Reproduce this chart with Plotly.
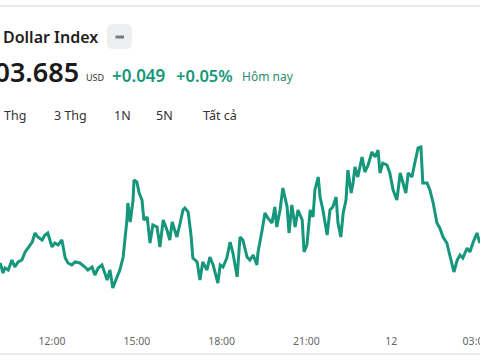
import datetime as dt
import plotly.graph_objects as go

# ---- data ----
start = dt.datetime(2024, 3, 11, 10, 0)
minutes = [10, 16, 20, 27, 35, 41, 48, 56, 63, 69,
           78, 84, 90, 99, 105, 111, 120, 126, 133, 141,
           148, 154, 162, 169, 175, 179, 190, 196, 205, 211,
           218, 226, 232, 237, 243, 249, 258, 264, 271, 279,
           281, 286, 292, 294, 300, 305, 311, 315, 322, 328,
           334, 343, 349, 356, 364, 370, 375, 385, 392, 398,
           402, 409, 415, 419, 428, 434, 440, 449, 455, 462,
           472, 477, 483, 491, 498, 504, 513, 519, 525, 534,
           540, 547, 555, 557, 566, 572, 578, 587, 593, 597,
           604, 610, 619, 623, 629, 636, 642, 651, 655, 661,
           668, 674, 678, 685, 689, 695, 704, 710, 716, 723,
           727, 733, 738, 744, 748, 755, 759, 763, 769, 778,
           784, 791, 799, 806, 812, 816, 822, 831, 837, 844,
           852, 859, 865, 871, 876, 884, 890, 897, 903, 907,
           916, 922, 929, 937, 943, 950, 958, 965, 973, 980,
           986, 992, 1001, 1007, 1014, 1022, 1028]
prices = [103.625, 103.595, 103.610, 103.604, 103.634, 103.613, 103.628, 103.634, 103.658, 103.670,
          103.688, 103.715, 103.703, 103.694, 103.709, 103.715, 103.673, 103.685, 103.679, 103.694,
          103.640, 103.625, 103.619, 103.628, 103.625, 103.625, 103.613, 103.604, 103.613, 103.589,
          103.610, 103.619, 103.595, 103.574, 103.604, 103.550, 103.583, 103.604, 103.643, 103.754,
          103.805, 103.748, 103.814, 103.874, 103.868, 103.835, 103.814, 103.754, 103.763, 103.685,
          103.739, 103.733, 103.673, 103.754, 103.724, 103.694, 103.748, 103.703, 103.745, 103.784,
          103.790, 103.778, 103.709, 103.640, 103.628, 103.574, 103.628, 103.604, 103.643, 103.619,
          103.565, 103.619, 103.613, 103.640, 103.688, 103.655, 103.583, 103.703, 103.694, 103.643,
          103.634, 103.649, 103.619, 103.655, 103.724, 103.775, 103.760, 103.745, 103.793, 103.733,
          103.784, 103.850, 103.793, 103.715, 103.799, 103.733, 103.784, 103.754, 103.658, 103.679,
          103.784, 103.763, 103.844, 103.883, 103.823, 103.784, 103.709, 103.784, 103.793, 103.823,
          103.745, 103.703, 103.775, 103.814, 103.904, 103.835, 103.865, 103.913, 103.883, 103.943,
          103.898, 103.919, 103.958, 103.943, 103.964, 103.895, 103.925, 103.919, 103.895, 103.844,
          103.814, 103.895, 103.865, 103.835, 103.895, 103.883, 103.925, 103.970, 103.973, 103.865,
          103.865, 103.844, 103.805, 103.745, 103.730, 103.703, 103.685, 103.643, 103.598, 103.634,
          103.649, 103.640, 103.670, 103.658, 103.688, 103.715, 103.685]
tick_minutes = [120, 300, 480, 660, 840, 1020]
tick_labels = ["12:00", "15:00", "18:00", "21:00", "12", "03:00"]
range_labels = ["Thg", "3 Thg", "1N", "5N", "Tất cả"]

times = [start + dt.timedelta(minutes=m) for m in minutes]
tick_vals = [start + dt.timedelta(minutes=m) for m in tick_minutes]

W, H, B = 480, 360, 30
PH = H - B
GREEN = "#16967a"
FONT = "Noto Sans, Open Sans, sans-serif"


def px(x):
    return x / W


def py(y):
    return 1 - y / PH


fig = go.Figure()
fig.add_trace(go.Scatter(x=times, y=prices, mode="lines",
                         line=dict(color=GREEN, width=3), hoverinfo="skip"))

ann = []


def text(s, x, y, size, color, anchor="left", weight=400):
    ann.append(dict(text=s, x=px(x), y=py(y), xref="paper", yref="paper",
                    xanchor=anchor, yanchor="middle", showarrow=False,
                    font=dict(family=FONT, size=size, color=color, weight=weight)))


text("Dollar Index", 1, 37, 16, "#1e1e1e", weight=600)
text("103.685", 81, 72, 27, "#1a1a1a", anchor="right", weight=600)
text("USD", 84, 78, 9, "#333333")
text("+0.049", 110, 75, 17, GREEN, weight=600)
text("+0.05%", 174, 75, 16.5, GREEN, weight=600)
text("Hôm nay", 240, 76, 12, "#2b8c6c")
for lab, cx in zip(range_labels, [15, 70, 122, 164.5, 220]):
    text(lab, cx, 115, 12.5, "#333333", anchor="center")

# rounded button
x0, x1, y0, y1, r = 107, 132, 24, 49, 6
rx, ry = r / W, r / PH
X0, X1, Y0, Y1 = px(x0), px(x1), py(y1), py(y0)
path = (f"M {X0+rx},{Y0} L {X1-rx},{Y0} Q {X1},{Y0} {X1},{Y0+ry} "
        f"L {X1},{Y1-ry} Q {X1},{Y1} {X1-rx},{Y1} L {X0+rx},{Y1} "
        f"Q {X0},{Y1} {X0},{Y1-ry} L {X0},{Y0+ry} Q {X0},{Y0} {X0+rx},{Y0} Z")
shapes = [
    dict(type="path", path=path, xref="paper", yref="paper",
         fillcolor="#eeeff1", line=dict(width=0)),
    dict(type="line", x0=px(115.5), x1=px(124), y0=py(37), y1=py(37),
         xref="paper", yref="paper", line=dict(color="#7a7a7a", width=3)),
    dict(type="line", x0=0, x1=1, y0=py(6), y1=py(6), xref="paper", yref="paper",
         line=dict(color="#e8e8e8", width=2)),
    dict(type="line", x0=0, x1=1, y0=py(354), y1=py(354), xref="paper", yref="paper",
         line=dict(color="#e6e6e6", width=1.5)),
]

fig.update_layout(
    width=W, height=H, margin=dict(l=0, r=0, t=0, b=B, autoexpand=False),
    paper_bgcolor="white", plot_bgcolor="white", showlegend=False,
    annotations=ann, shapes=shapes,
    xaxis=dict(range=[start + dt.timedelta(minutes=9.6), start + dt.timedelta(minutes=1028.4)],
               tickvals=tick_vals, ticktext=tick_labels, showgrid=False, zeroline=False,
               showline=False, ticks="", ticklabeloverflow="allow", ticklabelstandoff=3,
               automargin=False,
               tickfont=dict(family=FONT, size=10.5, color="#666666")),
    yaxis=dict(range=[103.424, 104.414], visible=False, showgrid=False, automargin=False),
)
fig.write_html("out.html", config={"displayModeBar": False},
               post_script="document.body.style.margin='0';document.body.style.overflow='hidden';")
